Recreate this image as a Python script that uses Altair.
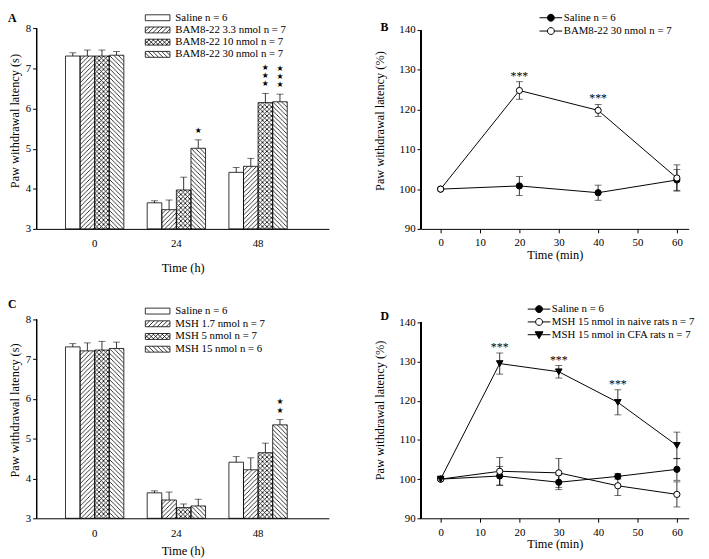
import base64
import altair as alt
import pandas as pd

FONT = "Liberation Serif"

# ---------------- data ----------------
hours = ["0", "24", "48"]

bam_series = ["Saline  n = 6", "BAM8-22 3.3 nmol  n = 7",
              "BAM8-22 10 nmol  n = 7", "BAM8-22 30 nmol  n = 7"]
bam_saline = [7.31, 3.65, 4.41]
bam_33 = [7.31, 3.48, 4.56]
bam_10 = [7.31, 3.97, 6.15]
bam_30 = [7.33, 5.01, 6.17]
bam_saline_err = [0.08, 0.05, 0.12]
bam_33_err = [0.15, 0.24, 0.20]
bam_10_err = [0.15, 0.32, 0.23]
bam_30_err = [0.09, 0.21, 0.19]
bam_stars = [[0, 0, 0], [0, 0, 0], [0, 0, 3], [0, 1, 3]]

msh_series = ["Saline  n = 6", "MSH 1.7 nmol  n = 7",
              "MSH 5 nmol  n = 7", "MSH 15 nmol  n = 6"]
msh_saline = [7.31, 3.64, 4.41]
msh_17 = [7.21, 3.46, 4.22]
msh_5 = [7.23, 3.27, 4.65]
msh_15 = [7.27, 3.31, 5.35]
msh_saline_err = [0.08, 0.05, 0.14]
msh_17_err = [0.20, 0.20, 0.30]
msh_5_err = [0.22, 0.09, 0.24]
msh_15_err = [0.16, 0.17, 0.13]
msh_stars = [[0, 0, 0], [0, 0, 0], [0, 0, 0], [0, 0, 2]]

b_times = [0, 20, 40, 60]
b_series = ["Saline  n = 6", "BAM8-22 30 nmol  n = 7"]
b_saline = [100, 100.8, 99.1, 102.3]
b_saline_err = [0, 2.4, 1.9, 2.6]
b_bam30 = [100, 124.8, 119.8, 102.8]
b_bam30_err = [0, 2.2, 1.5, 3.3]
b_stars = [[0, 0, 0, 0], [0, 3, 3, 0]]

d_times = [0, 15, 30, 45, 60]
d_series = ["Saline  n = 6", "MSH 15 nmol  in naive rats  n = 7",
            "MSH 15 nmol in CFA rats  n = 7"]
d_saline = [100, 100.8, 99.2, 100.7, 102.5]
d_saline_err = [0, 2.4, 1.9, 0.7, 2.8]
d_naive = [100, 102.0, 101.6, 98.3, 96.1]
d_naive_err = [0, 3.5, 3.7, 2.5, 3.2]
d_cfa = [100, 129.5, 127.4, 119.6, 108.6]
d_cfa_err = [0, 2.7, 1.6, 3.2, 3.4]
d_stars = [[0, 0, 0, 0, 0], [0, 0, 0, 0, 0], [0, 3, 3, 3, 0]]

# ---------------- styles ----------------
PATTERNS = [None, "fwd", "cross", "back"]
STAR_LINE = 8.5


def pattern_uri(kind, s=4.5):
    d = ""
    if kind in ("fwd", "cross"):
        d += f"M0,{s}L{s},0M-1,1L1,-1M{s-1},{s+1}L{s+1},{s-1}"
    if kind in ("back", "cross"):
        d += f"M0,0L{s},{s}M-1,{s-1}L1,{s+1}M{s-1},-1L{s+1},1"
    svg = ("<svg xmlns='http://www.w3.org/2000/svg' width='100%' height='100%'>"
           f"<defs><pattern id='p' width='{s}' height='{s}' patternUnits='userSpaceOnUse'>"
           f"<path d='{d}' stroke='black' stroke-width='0.8' fill='none'/></pattern></defs>"
           "<rect width='100%' height='100%' fill='url(#p)'/></svg>")
    return "data:image/svg+xml;base64," + base64.b64encode(svg.encode()).decode()


def hatch_symbol(kind):
    x0, x1, h = -1.0, 4.0, 0.6
    d = f"M{x0},{-h}H{x1}V{h}H{x0}Z"
    step = 0.9
    dirs = []
    if kind in ("fwd", "cross"):
        dirs.append(1)
    if kind in ("back", "cross"):
        dirs.append(-1)
    for dn in dirs:
        x = x0 - 2 * h
        while x < x1:
            t0 = max(0.0, (x0 - x) / (2 * h))
            t1 = min(1.0, (x1 - x) / (2 * h))
            if t1 > t0:
                xa, xb = x + 2 * h * t0, x + 2 * h * t1
                if dn > 0:
                    ya, yb = h - 2 * h * t0, h - 2 * h * t1
                else:
                    ya, yb = -h + 2 * h * t0, -h + 2 * h * t1
                d += f"M{xa:.3f},{ya:.3f}L{xb:.3f},{yb:.3f}"
            x += step
    return d


LINE_CIRCLE = "M-1,0H0.6M2,0H3.6M2,0A0.7,0.7,0,1,1,0.6,0A0.7,0.7,0,1,1,2,0Z"
LINE_TRI = "M-1,0H3.6M0.5,-0.6L2.1,-0.6L1.3,0.8Z"


def make_legend(leg_x, leg_y, row_pad, label_offset, stroke_w):
    return alt.Legend(
        title=None, orient="none", legendX=leg_x, legendY=leg_y, direction="vertical",
        labelFont=FONT, labelFontSize=11, labelColor="black", labelLimit=400,
        rowPadding=row_pad, symbolSize=100, labelOffset=label_offset, padding=0,
        symbolStrokeColor="black", symbolStrokeWidth=stroke_w, symbolOpacity=1)


def letter_title(letter, dx, offset):
    return alt.TitleParams(letter, anchor="start", frame="group", orient="top",
                           dx=dx, offset=offset)


def bar_panel(series, means, errs, stars, letter, y_top, leg_x, leg_y, row_pad,
              title_dx, title_offset, x_title_pad, width, height):
    rows = []
    for s, m, e, st in zip(series, means, errs, stars):
        for t, v, ev, n in zip(hours, m, e, st):
            rows.append({"series": s, "time": t, "val": v, "hi": round(v + ev, 3),
                         "nstar": n, "star": "\n".join(["\u2605"] * n)})
    df = pd.DataFrame(rows)
    base = alt.Chart(df)
    xs = alt.Scale(domain=hours, paddingInner=0.286, paddingOuter=0.432, align=0.41)
    xa = alt.Axis(title="Time (h)", labelAngle=0, tickSize=0, labelPadding=9,
                  titlePadding=x_title_pad)
    x = alt.X("time:N", scale=xs, axis=xa)
    xo = alt.XOffset("series:N", scale=alt.Scale(domain=series, paddingInner=0, paddingOuter=0))
    ys = alt.Scale(domain=[3, y_top], nice=False, zero=False)
    ya = alt.Axis(title="Paw withdrawal latency (s)", values=[3, 4, 5, 6, 7, 8],
                  tickSize=4, labelPadding=2, titlePadding=4, domain=False)

    def Y(f):
        return alt.Y(f, scale=ys, axis=ya)

    layers = []
    for s, kind in zip(series, PATTERNS):
        if kind is None:
            continue
        layers.append(base.transform_filter(alt.datum.series == s)
                      .mark_image(url=pattern_uri(kind), aspect=False)
                      .encode(x=x, xOffset=xo, y=Y("val:Q"), y2=alt.datum(3)))
    paths = [hatch_symbol(k) for k in PATTERNS]
    yline = base.mark_rule(color="black", strokeWidth=1).encode(
        x=alt.value(0), y=alt.datum(3, scale=ys, axis=ya), y2=alt.datum(8))
    bars = base.mark_bar(stroke="black", strokeWidth=0.8, fill="transparent").encode(
        x=x, xOffset=xo, y=Y("val:Q"), y2=alt.datum(3))
    rule = base.mark_rule(color="black", strokeWidth=0.8).encode(
        x=x, xOffset=xo, y=Y("val:Q"), y2="hi:Q")
    cap = base.mark_tick(color="black", thickness=0.8, size=7).encode(
        x=x, xOffset=xo, y=Y("hi:Q"))
    star_layers = []
    for n in sorted({n for row in stars for n in row if n > 0}):
        star_layers.append(base.transform_filter(alt.datum.nstar == n).mark_text(
            font="DejaVu Sans", fontSize=8, baseline="bottom", lineBreak="\n",
            lineHeight=STAR_LINE, dy=-5 - (n - 1) * STAR_LINE, color="black").encode(
            x=x, xOffset=xo, y=Y("hi:Q"), text="star:N"))
    legend_layer = base.transform_filter("false").mark_point(
        filled=False, stroke="black", strokeWidth=0.8, opacity=1, size=100).encode(
        shape=alt.Shape("series:N", scale=alt.Scale(domain=series, range=paths),
                        legend=make_legend(leg_x, leg_y, row_pad, 20, 0.8)))
    layers += [yline, bars, rule, cap, *star_layers, legend_layer]
    return alt.layer(*layers).properties(
        width=width, height=height, title=letter_title(letter, title_dx, title_offset))


def line_panel(times, series, means, errs, stars, fills, shapes, sizes, paths, letter,
               y_top, leg_x, leg_y, row_pad, title_dx, title_offset, width, height):
    rows = []
    for s, m, e, st in zip(series, means, errs, stars):
        for t, v, ev, n in zip(times, m, e, st):
            rows.append({"series": s, "t": t, "val": v, "lo": round(v - ev, 3),
                         "hi": round(v + ev, 3), "err": ev, "star": "*" * n})
    df = pd.DataFrame(rows)
    base = alt.Chart(df)
    xs = alt.Scale(domain=[-5, 63], nice=False, zero=False)
    xa = alt.Axis(title="Time (min)", values=[0, 10, 20, 30, 40, 50, 60], tickSize=4,
                  labelPadding=4, titlePadding=1)
    ys = alt.Scale(domain=[90, y_top], nice=False, zero=False)
    ya = alt.Axis(title="Paw withdrawal latency (%)", values=[90, 100, 110, 120, 130, 140],
                  tickSize=4, labelPadding=2, titlePadding=12.5, domain=False)

    def X():
        return alt.X("t:Q", scale=xs, axis=xa)

    def Y(f):
        return alt.Y(f, scale=ys, axis=ya)

    yline = base.mark_rule(color="black", strokeWidth=1).encode(
        x=alt.value(0), y=alt.datum(90, scale=ys, axis=ya), y2=alt.datum(140))
    lines = base.mark_line(color="black", strokeWidth=1).encode(
        x=X(), y=Y("val:Q"), detail="series:N")
    eb = base.transform_filter(alt.datum.err > 0)
    rule = eb.mark_rule(color="black", strokeWidth=0.8).encode(x=X(), y=Y("lo:Q"), y2="hi:Q")
    cap_lo = eb.mark_tick(orient="horizontal", color="black", size=7, thickness=0.8).encode(
        x=X(), y=Y("lo:Q"))
    cap_hi = eb.mark_tick(orient="horizontal", color="black", size=7, thickness=0.8).encode(
        x=X(), y=Y("hi:Q"))
    pts = []
    for s, f, sh, sz in zip(series, fills, shapes, sizes):
        pts.append(base.transform_filter(alt.datum.series == s).mark_point(
            filled=True, fill=f, stroke="black", strokeWidth=1, size=sz, opacity=1,
            shape=sh).encode(x=X(), y=Y("val:Q")))
    star = base.transform_filter(alt.datum.star != "").mark_text(
        font=FONT, fontSize=12, baseline="bottom", dy=1, color="black").encode(
        x=X(), y=Y("hi:Q"), text="star:N")
    leg = make_legend(leg_x, leg_y, row_pad, 14, 1)
    legend_layer = base.transform_filter("false").mark_point(
        filled=False, strokeWidth=1, opacity=1, size=100).encode(
        fill=alt.Fill("series:N", scale=alt.Scale(domain=series, range=fills), legend=leg),
        stroke=alt.Stroke("series:N", scale=alt.Scale(domain=series, range=["black"] * len(series)),
                          legend=leg),
        shape=alt.Shape("series:N", scale=alt.Scale(domain=series, range=paths), legend=leg))
    return alt.layer(yline, lines, rule, cap_lo, cap_hi, *pts, star, legend_layer).properties(
        width=width, height=height, title=letter_title(letter, title_dx, title_offset))


A = bar_panel(bam_series,
              [bam_saline, bam_33, bam_10, bam_30],
              [bam_saline_err, bam_33_err, bam_10_err, bam_30_err],
              bam_stars, "A", 8.4, 110, 0, 0.4, -29, -13, 13, 297, 220)
C = bar_panel(msh_series,
              [msh_saline, msh_17, msh_5, msh_15],
              [msh_saline_err, msh_17_err, msh_5_err, msh_15_err],
              msh_stars, "C", 8.445, 110, 4, 0.9, -29, -9, 7, 297, 220)
B = line_panel(b_times, b_series, [b_saline, b_bam30], [b_saline_err, b_bam30_err], b_stars,
               ["black", "white"], ["circle", "circle"], [40, 40], [LINE_CIRCLE, LINE_CIRCLE],
               "B", 144.45, 120, 0, 0.5, -41, -22, 272, 220)
D = line_panel(d_times, d_series, [d_saline, d_naive, d_cfa],
               [d_saline_err, d_naive_err, d_cfa_err], d_stars,
               ["black", "white", "black"], ["circle", "circle", "triangle-down"], [40, 40, 45],
               [LINE_CIRCLE, LINE_CIRCLE, LINE_TRI],
               "D", 145.28, 108, 2, 0, -41, -21.5, 272, 220)

IND = dict(shape="independent", fill="independent", stroke="independent",
           xOffset="independent")
LIND = dict(shape="independent", fill="independent", stroke="independent")

row1 = alt.hconcat(A, B, spacing=45.5).resolve_scale(**IND).resolve_legend(**LIND)
row2 = alt.hconcat(C, D, spacing=45.5).resolve_scale(**IND).resolve_legend(**LIND)

chart = alt.vconcat(row1, row2, spacing=24).resolve_scale(**IND).resolve_legend(**LIND).properties(
    padding=0).configure_view(stroke=None).configure_axis(
    domainColor="black", tickColor="black", labelColor="black", titleColor="black",
    labelFont=FONT, titleFont=FONT, labelFontSize=11, titleFontSize=12.5,
    titleFontWeight="normal", grid=False, domainWidth=1, tickWidth=1,
).configure_title(font=FONT, fontSize=12, fontWeight="bold", color="black")

chart.save("out.html", embed_options={"renderer": "svg", "actions": False})
